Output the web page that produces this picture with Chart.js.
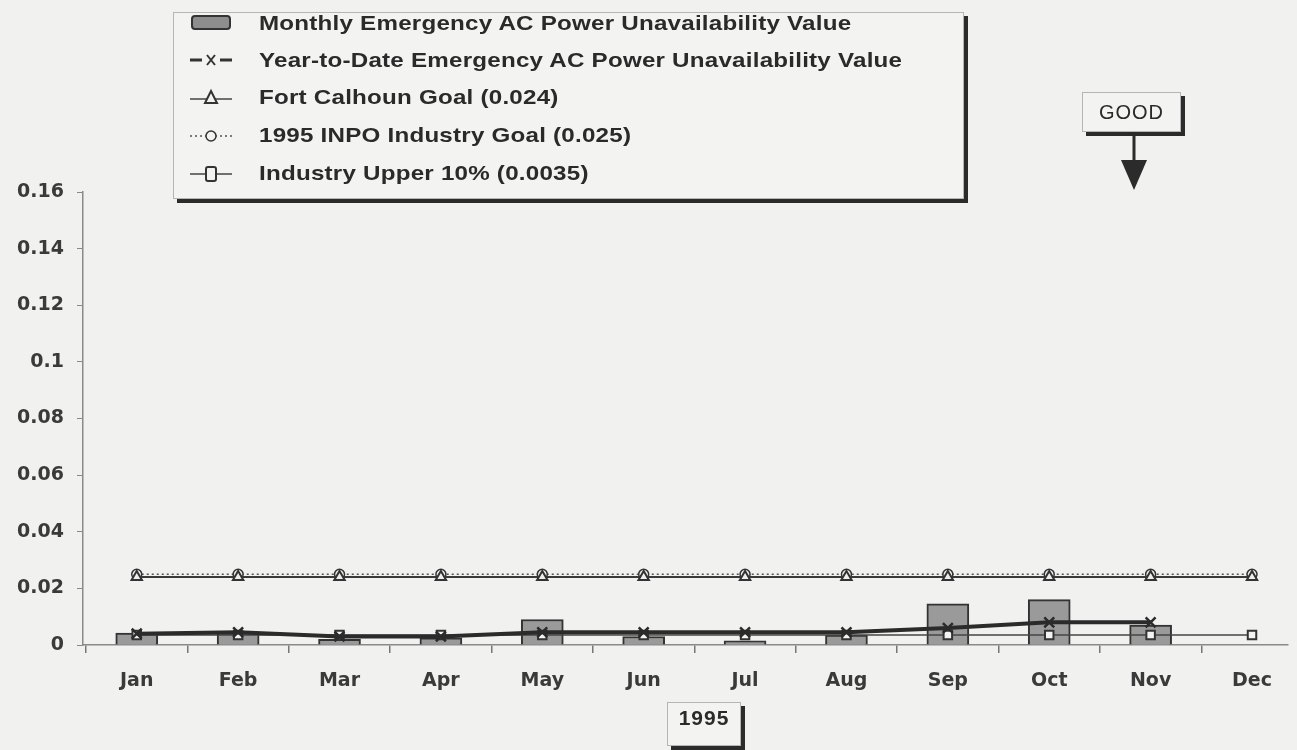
<!DOCTYPE html>
<html>
<head>
<meta charset="utf-8">
<script src="https://cdn.jsdelivr.net/npm/chart.js@4"></script>
<style>
  html, body { margin: 0; padding: 0; background: #f1f1f0; }
  #wrap { position: relative; width: 1297px; height: 750px; overflow: hidden; }
  #chart { position: absolute; left: 0; top: 0; }
  .box { position: absolute; border: 1px solid #b5b5b5; box-shadow: 4px 4px 0 #2b2b2b; background: #f3f3f2; color: #2a2a2a; font-family: "Liberation Sans", Arial, sans-serif; }
  #legend { left: 173px; top: 12px; width: 789px; height: 185px; }
  .row { position: absolute; left: 0; height: 30px; display: flex; align-items: center; font-size: 21px; font-weight: bold; white-space: nowrap; }
  .row svg { margin-left: 14px; margin-right: 21px; }
  .row span { display: inline-block; transform: scaleX(1.15); transform-origin: left center; letter-spacing: 0.2px; }
  #good { left: 1082px; top: 92px; width: 97px; height: 38px; font-size: 20px; line-height: 38px; text-align: center; letter-spacing: 1px; }
  #year { left: 667px; top: 702px; width: 72px; height: 42px; font-size: 21px; font-weight: bold; line-height: 30px; text-align: center; letter-spacing: 1px; }
  #arrow { position: absolute; left: 1110px; top: 130px; }
</style>
</head>
<body>
<div id="wrap">
  <canvas id="chart" width="1297" height="750"></canvas>
  <div id="legend" class="box">
    <div class="row" style="top:-5px">
      <svg width="50" height="20"><rect x="4" y="3" width="38" height="13" rx="3" fill="#8d8d8d" stroke="#333" stroke-width="2"/></svg>
      <span>Monthly Emergency AC Power Unavailability Value</span></div>
    <div class="row" style="top:32px">
      <svg width="50" height="20"><line x1="2" y1="10" x2="14" y2="10" stroke="#333" stroke-width="3"/><line x1="32" y1="10" x2="44" y2="10" stroke="#333" stroke-width="3"/><path d="M19 5 L27 15 M27 5 L19 15" stroke="#333" stroke-width="2"/></svg>
      <span>Year-to-Date Emergency AC Power Unavailability Value</span></div>
    <div class="row" style="top:69px">
      <svg width="50" height="20"><line x1="2" y1="12" x2="44" y2="12" stroke="#444" stroke-width="1.5"/><path d="M23 4 L29 16 L17 16 Z" fill="#f3f3f2" stroke="#333" stroke-width="2"/></svg>
      <span>Fort Calhoun Goal (0.024)</span></div>
    <div class="row" style="top:107px">
      <svg width="50" height="20"><line x1="2" y1="11" x2="44" y2="11" stroke="#555" stroke-width="1.5" stroke-dasharray="2 3"/><circle cx="23" cy="11" r="5" fill="#f3f3f2" stroke="#333" stroke-width="1.5"/></svg>
      <span>1995 INPO Industry Goal (0.025)</span></div>
    <div class="row" style="top:145px">
      <svg width="50" height="20"><line x1="2" y1="11" x2="44" y2="11" stroke="#444" stroke-width="1.5"/><rect x="18" y="4" width="10" height="14" rx="2" fill="#f3f3f2" stroke="#333" stroke-width="2"/></svg>
      <span>Industry Upper 10% (0.0035)</span></div>
  </div>
  <div id="good" class="box">GOOD</div>
  <svg id="arrow" width="50" height="65"><line x1="24" y1="2" x2="24" y2="32" stroke="#2b2b2b" stroke-width="3"/><path d="M11 30 L37 30 L24 60 Z" fill="#2b2b2b"/></svg>
  <div id="year" class="box">1995</div>
</div>
<script>
// data
const months = ['Jan', 'Feb', 'Mar', 'Apr', 'May', 'Jun', 'Jul', 'Aug', 'Sep', 'Oct', 'Nov', 'Dec'];
const monthlyValue = [0.0042, 0.0045, 0.002, 0.0025, 0.009, 0.003, 0.0015, 0.0035, 0.0145, 0.016, 0.007, null];
const ytdValue = [0.004, 0.0045, 0.003, 0.003, 0.0045, 0.0045, 0.0045, 0.0045, 0.006, 0.008, 0.008, null];
const fortCalhounGoal = [0.024, 0.024, 0.024, 0.024, 0.024, 0.024, 0.024, 0.024, 0.024, 0.024, 0.024, 0.024];
const inpoGoal = [0.025, 0.025, 0.025, 0.025, 0.025, 0.025, 0.025, 0.025, 0.025, 0.025, 0.025, 0.025];
const upper10 = [0.0035, 0.0035, 0.0035, 0.0035, 0.0035, 0.0035, 0.0035, 0.0035, 0.0035, 0.0035, 0.0035, 0.0035];
const yTicks = [0, 0.02, 0.04, 0.06, 0.08, 0.1, 0.12, 0.14, 0.16];

const toPoints = arr => arr.map((v, i) => ({ x: i, y: v }));
const tickFont = { family: 'DejaVu Sans', size: 19, weight: 'bold' };
const ink = '#2b2b2b';

new Chart(document.getElementById('chart'), {
  data: {
    datasets: [
      {
        type: 'bar',
        label: 'Monthly Emergency AC Power Unavailability Value',
        data: toPoints(monthlyValue),
        backgroundColor: '#9a9a9a',
        borderColor: '#333',
        borderWidth: 2,
        barThickness: 42,
        order: 5
      },
      {
        type: 'line',
        label: 'Year-to-Date Emergency AC Power Unavailability Value',
        data: toPoints(ytdValue),
        borderColor: ink,
        borderWidth: 4,
        pointStyle: 'crossRot',
        pointRadius: 7,
        pointBorderWidth: 2.5,
        pointBorderColor: ink,
        order: 1
      },
      {
        type: 'line',
        label: 'Fort Calhoun Goal (0.024)',
        data: toPoints(fortCalhounGoal),
        borderColor: '#3a3a3a',
        borderWidth: 2,
        pointStyle: 'triangle',
        pointRadius: 6,
        pointBorderWidth: 2,
        pointBackgroundColor: '#eee',
        pointBorderColor: '#333',
        order: 3
      },
      {
        type: 'line',
        label: '1995 INPO Industry Goal (0.025)',
        data: toPoints(inpoGoal),
        borderColor: '#555',
        borderWidth: 1.5,
        borderDash: [2, 3],
        pointStyle: 'circle',
        pointRadius: 5,
        pointBorderWidth: 1.5,
        pointBackgroundColor: '#eee',
        pointBorderColor: '#333',
        order: 4
      },
      {
        type: 'line',
        label: 'Industry Upper 10% (0.0035)',
        data: toPoints(upper10),
        borderColor: '#444',
        borderWidth: 1.5,
        pointStyle: 'rect',
        pointRadius: 6,
        pointBorderWidth: 2,
        pointBackgroundColor: '#f3f3f2',
        pointBorderColor: '#333',
        order: 2
      }
    ]
  },
  options: {
    responsive: false,
    animation: false,
    layout: { padding: { top: 192, right: 0, bottom: 0, left: 0 } },
    plugins: { legend: { display: false }, tooltip: { enabled: false } },
    scales: {
      x: {
        type: 'linear',
        offset: false,
        min: -0.53,
        max: 11.35,
        afterBuildTicks: scale => {
          const ticks = [];
          months.forEach((m, i) => {
            ticks.push({ value: i - 0.5 });
            ticks.push({ value: i });
          });
          scale.ticks = ticks;
        },
        afterFit: scale => { scale.height = 105; },
        ticks: {
          autoSkip: false,
          maxRotation: 0,
          padding: 17,
          font: tickFont,
          color: '#3a3a3a',
          callback: v => Number.isInteger(v) ? months[v] : ''
        },
        grid: {
          offset: false,
          drawOnChartArea: false,
          tickLength: 8,
          lineWidth: 1.5,
          color: ctx => (ctx.tick && Number.isInteger(ctx.tick.value)) ? 'rgba(0,0,0,0)' : '#777'
        },
        border: { color: '#8a8a8a', width: 1.5 }
      },
      y: {
        min: 0,
        max: 0.16,
        afterBuildTicks: scale => { scale.ticks = yTicks.map(v => ({ value: v })); },
        afterFit: scale => { scale.width = 83; },
        ticks: {
          padding: 13,
          font: tickFont,
          color: '#3a3a3a',
          callback: v => String(+v.toFixed(2))
        },
        grid: { drawOnChartArea: false, tickLength: 6, color: '#888' },
        border: { color: '#8a8a8a', width: 1.5 }
      }
    }
  }
});
</script>
</body>
</html>
